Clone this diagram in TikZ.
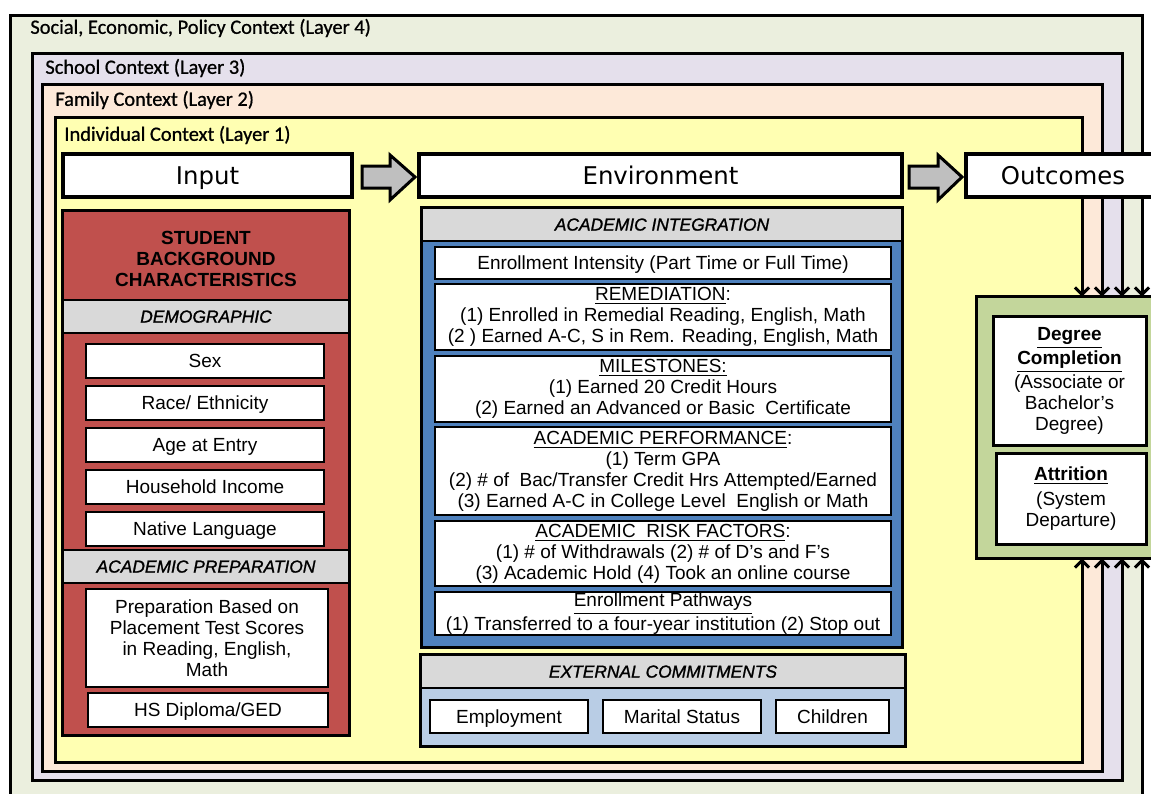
\documentclass[tikz,border=0pt]{standalone}
\usepackage{fontspec}
\setmainfont{Liberation Sans}
\newfontfamily\headfont{DejaVu Sans}
\newfontfamily\layerfont[FakeBold=0.8]{Carlito}
\newfontfamily\bandfont[FakeBold=1.2]{Liberation Sans}
\usetikzlibrary{arrows.meta}

\definecolor{layfour}{RGB}{235,239,222}
\definecolor{laythree}{RGB}{229,224,236}
\definecolor{laytwo}{RGB}{253,233,217}
\definecolor{layone}{RGB}{255,255,178}
\definecolor{redpanel}{RGB}{192,80,77}
\definecolor{bluepanel}{RGB}{79,129,189}
\definecolor{ltblue}{RGB}{185,205,229}
\definecolor{outgreen}{RGB}{195,214,155}
\definecolor{bandgray}{RGB}{217,217,217}
\definecolor{arrgray}{RGB}{191,191,191}

\tikzset{
  txt/.style={font=\fontsize{9.5}{10.5}\selectfont, align=center, inner sep=0pt},
  wbox/.style={txt, draw=black, line width=1pt, fill=white},
  wline/.style={wbox, text depth=0pt},
  band/.style={txt, text depth=0pt, draw=black, line width=0.6pt, fill=bandgray, font=\bandfont\fontsize{8.7}{10.5}\selectfont\itshape},
  panel/.style={inner sep=0pt},
  panelline/.style={draw=black, line width=1.6pt},
  headbox/.style={draw=black, line width=1.6pt, fill=white, inner sep=0pt, text depth=0pt, font=\headfont\fontsize{12.2}{14}\selectfont},
  laylab/.style={anchor=west, inner sep=0pt, font=\layerfont\fontsize{10.2}{12}\selectfont},
  layline/.style={line width=1.5pt, -{Straight Barb[length=3.5pt,width=7pt]}},
  blockarr/.style={draw=black, line width=1.5pt, fill=arrgray, line join=miter},
}

\begin{document}
\begin{tikzpicture}[x=0.5pt,y=-0.5pt]

\useasboundingbox (0,0) rectangle (1151,793);
\clip (0,0) rectangle (1151,793);

% nested context layers
\fill[layfour] (10,15) rectangle (1142,800);
\fill[laythree] (32,53) rectangle (1122,780);
\fill[laytwo] (42,84) rectangle (1102,771);
\fill[layone] (55,117) rectangle (1082,762);

\coordinate (L4nw) at (10,15);  \coordinate (L4ne) at (1142,15);
\coordinate (L4sw) at (10,800); \coordinate (L4se) at (1142,800);
\coordinate (L3nw) at (32,53);  \coordinate (L3ne) at (1122,53);
\coordinate (L3sw) at (32,780); \coordinate (L3se) at (1122,780);
\coordinate (L2nw) at (42,84);  \coordinate (L2ne) at (1102,84);
\coordinate (L2sw) at (42,771); \coordinate (L2se) at (1102,771);
\coordinate (L1nw) at (55,117); \coordinate (L1ne) at (1082,117);
\coordinate (L1sw) at (55,762); \coordinate (L1se) at (1082,762);

\node[laylab] (lab4) at (30,28) {Social, Economic, Policy Context (Layer 4)};
\node[laylab] (lab3) at (45,68) {School Context (Layer 3)};
\node[laylab] (lab2) at (55,100) {Family Context (Layer 2)};
\node[laylab] (lab1) at (64,135) {Individual Context (Layer 1)};

% input - environment - outcomes
\node[headbox, minimum width=144.5pt, minimum height=21.5pt] (inp) at (207.5,175.5) {Input};
\node[headbox, minimum width=241.5pt, minimum height=21.5pt] (env) at (660.5,175.5) {Environment};
\node[headbox, minimum width=97pt, minimum height=21.5pt] (outc) at (1063,175.5) {Outcomes};

\draw[blockarr] (362,166) -- (390,166) -- (390,155) -- (415,177) -- (390,200) -- (390,188) -- (362,188) -- cycle;
\draw[blockarr] (909,166) -- (938,166) -- (938,155) -- (962,177) -- (938,200) -- (938,188) -- (909,188) -- cycle;

% student background
\node[panel, fill=redpanel, minimum width=143pt, minimum height=262pt] (sbg) at (206,473) {};
\node[txt, font=\fontsize{9.5}{10.5}\selectfont\bfseries] (sbgt) at (206,259) {STUDENT\\BACKGROUND\\CHARACTERISTICS};
\node[band, minimum width=143pt, minimum height=16.5pt] (demo) at (206,316.5) {DEMOGRAPHIC};
\node[wline, minimum width=119pt, minimum height=17pt] (sex) at (205,361) {Sex};
\node[wline, minimum width=119pt, minimum height=17pt] (race) at (205,403) {Race/ Ethnicity};
\node[wline, minimum width=119pt, minimum height=17pt] (age) at (205,445) {Age at Entry};
\node[wline, minimum width=119pt, minimum height=17pt] (inc) at (205,487) {Household Income};
\node[wline, minimum width=119pt, minimum height=17pt] (lang) at (205,529) {Native Language};
\node[band, minimum width=143pt, minimum height=16.5pt] (prep) at (206,566.5) {ACADEMIC PREPARATION};
\node[wbox, minimum width=121pt, minimum height=49pt] (plac) at (207,638) {Preparation Based on\\Placement Test Scores\\in Reading, English,\\Math};
\node[wline, minimum width=120pt, minimum height=17pt] (hsd) at (208,710) {HS Diploma/GED};
\draw[panelline] (sbg.north west) rectangle (sbg.south east);

% academic integration
\node[panel, fill=bluepanel, minimum width=240pt, minimum height=219.5pt] (aint) at (662,427.5) {};
\node[band, minimum width=240pt, minimum height=16.5pt] (ainth) at (662,224.5) {ACADEMIC INTEGRATION};
\node[wline, minimum width=228pt, minimum height=16pt] (eint) at (663,263) {Enrollment Intensity (Part Time or Full Time)};
\node[wbox, minimum width=228pt, minimum height=33pt] (remd) at (663,317) {\underline{REMEDIATION}:\\(1) Enrolled in Remedial Reading, English, Math\\(2 ) Earned A-C, S in Rem. Reading, English, Math};
\node[wbox, minimum width=228pt, minimum height=33pt] (mile) at (663,389) {\underline{MILESTONES:}\\(1) Earned 20 Credit Hours\\(2) Earned an Advanced or Basic\ \ Certificate};
\node[wbox, minimum width=228pt, minimum height=44pt] (perf) at (663,471) {\underline{ACADEMIC PERFORMANCE}:\\(1) Term GPA\\(2) \# of\ \ Bac/Transfer Credit Hrs Attempted/Earned\\(3) Earned A-C in College Level\ \ English or Math};
\node[wbox, minimum width=228pt, minimum height=32.5pt] (risk) at (663,553.5) {\underline{ACADEMIC\ \ RISK FACTORS}:\\(1) \# of Withdrawals (2) \# of D’s and F’s\\(3) Academic Hold (4) Took an online course};
\node[wbox, minimum width=228pt, minimum height=21.5pt] (path) at (663,613.5) {\underline{Enrollment Pathways}\\(1) Transferred to a four-year institution (2) Stop out};
\draw[panelline] (aint.north west) rectangle (aint.south east);

% external commitments
\node[panel, fill=ltblue, minimum width=242pt, minimum height=45.5pt] (ext) at (663,700.5) {};
\node[band, minimum width=242pt, minimum height=16.5pt] (exth) at (663,671.5) {EXTERNAL COMMITMENTS};
\node[wline, minimum width=79pt, minimum height=16.5pt] (emp) at (509,716.5) {Employment};
\node[wline, minimum width=79pt, minimum height=16.5pt] (mar) at (682,716.5) {Marital Status};
\node[wline, minimum width=56.5pt, minimum height=16.5pt] (chi) at (832.5,716.5) {Children};
\draw[panelline] (ext.north west) rectangle (ext.south east);

% outcomes
\node[panel, fill=outgreen, minimum width=91.5pt, minimum height=130.5pt] (grn) at (1068.5,427.5) {};
\node[wbox, line width=1.5pt, minimum width=76.5pt, minimum height=64.5pt] (degr) at (1069.5,381) {\textbf{\underline{Degree}}\\\textbf{\underline{Completion}}\\(Associate or\\Bachelor’s\\Degree)};
\node[wbox, line width=1.5pt, minimum width=75pt, minimum height=45.5pt] (attr) at (1071,498.5) {\textbf{\underline{Attrition}}\\[2pt](System\\Departure)};
\draw[panelline] (grn.north west) rectangle (grn.south east);

% layer borders run into the outcomes
\draw[layline] (outc.north -| L1ne) -- (L1ne) -- (L1nw) -- (L1sw) -- (L1se) -- (L1se |- grn.south);
\draw[layline] (outc.north -| L2ne) -- (L2ne) -- (L2nw) -- (L2sw) -- (L2se) -- (L2se |- grn.south);
\draw[layline] (outc.north -| L3ne) -- (L3ne) -- (L3nw) -- (L3sw) -- (L3se) -- (L3se |- grn.south);
\draw[layline] (outc.north -| L4ne) -- (L4ne) -- (L4nw) -- (L4sw) -- (L4se) -- (L4se |- grn.south);
\draw[layline] (outc.south -| L1ne) -- (grn.north -| L1ne);
\draw[layline] (outc.south -| L2ne) -- (grn.north -| L2ne);
\draw[layline] (outc.south -| L3ne) -- (grn.north -| L3ne);
\draw[layline] (outc.south -| L4ne) -- (grn.north -| L4ne);

\end{tikzpicture}
\end{document}
